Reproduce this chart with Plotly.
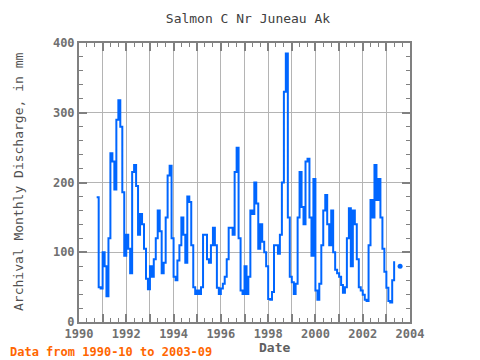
import numpy as np
import pandas as pd
import plotly.graph_objects as go

START = "1990-10-01"

# Monthly discharge (mm), by water year (Oct..Sep)
wy1991 = [179, 50, 48, 100, 80, 37, 120, 242, 230, 190, 290, 318]
wy1992 = [280, 186, 95, 125, 105, 70, 215, 225, 195, 125, 155, 140]
wy1993 = [105, 62, 47, 80, 65, 90, 120, 160, 130, 70, 85, 150]
wy1994 = [210, 224, 120, 65, 60, 88, 110, 150, 125, 85, 180, 172]
wy1995 = [110, 50, 40, 45, 40, 50, 125, 125, 90, 85, 110, 135]
wy1996 = [110, 49, 40, 48, 55, 65, 90, 135, 135, 125, 215, 250]
wy1997 = [120, 45, 40, 80, 40, 65, 160, 155, 200, 170, 105, 140]
wy1998 = [115, 100, 80, 33, 32, 43, 110, 110, 98, 125, 200, 330]
wy1999 = [385, 150, 65, 57, 40, 55, 150, 215, 165, 140, 230, 234]
wy2000 = [150, 95, 205, 45, 32, 55, 110, 160, 182, 140, 110, 160]
wy2001 = [100, 75, 70, 65, 53, 42, 50, 120, 163, 80, 160, 140]
wy2002 = [90, 50, 45, 39, 32, 30, 110, 175, 150, 225, 175, 205]
wy2003 = [150, 105, 72, 49, 30, 28, 60, 87, None, None, 80, None]

year_ticks = list(range(1990, 2005))
tick_labels = [str(y) if y % 2 == 0 else "" for y in year_ticks]
y_ticks = [0, 100, 200, 300, 400]

values = (wy1991 + wy1992 + wy1993 + wy1994 + wy1995 + wy1996 + wy1997 +
          wy1998 + wy1999 + wy2000 + wy2001 + wy2002 + wy2003)
vals = np.array([np.nan if v is None else v for v in values], dtype=float)
dates = pd.date_range(START, periods=len(vals), freq="MS")

# isolated points (no valid neighbour) are shown as markers
prev_nan = np.concatenate([[True], np.isnan(vals[:-1])])
next_nan = np.concatenate([np.isnan(vals[1:]), [True]])
iso = (~np.isnan(vals)) & prev_nan & next_nan

BLUE = "#0066ff"
AXC = "#808080"
FONT = "DejaVu Sans Mono"

# page has an 8px body margin: figure is placed at (8, 8)
W, H = 472, 352
L, R, T, B = 71, 70, 35, 38
PW, PH = W - L - R, H - T - B

fig = go.Figure()
fig.add_trace(go.Scatter(x=dates, y=vals, mode="lines",
                         line=dict(color=BLUE, width=2, shape="hv"),
                         connectgaps=False, showlegend=False))
fig.add_trace(go.Scatter(x=dates[iso], y=vals[iso], mode="markers",
                         marker=dict(color=BLUE, size=5), showlegend=False))

fig.update_layout(
    width=W, height=H,
    margin=dict(l=L, r=R, t=T, b=B),
    paper_bgcolor="white", plot_bgcolor="white",
    title=dict(text="Salmon C Nr Juneau Ak", xref="container", x=(248 - 8) / W,
               xanchor="center", yref="container", y=1 - (18 - 8) / H, yanchor="middle",
               font=dict(family=FONT, size=13, color="#404040")),
    showlegend=False,
)

fig.update_xaxes(
    type="date",
    range=["1990-01-01", "2004-01-01"],
    tickmode="array",
    tickvals=[f"{y}-01-01" for y in year_ticks],
    ticktext=tick_labels,
    showgrid=True, gridcolor="#b4b4b4", gridwidth=1,
    ticks="inside", ticklen=8, tickwidth=2, tickcolor=AXC,
    minor=dict(dtick="M4", tick0="1990-01-01", ticks="inside", ticklen=4,
               tickwidth=1, tickcolor=AXC, showgrid=False),
    showline=True, linecolor=AXC, linewidth=2, mirror="allticks",
    tickfont=dict(family=FONT, size=12, color="#707070", weight="bold"),
    zeroline=False,
)
fig.update_yaxes(
    range=[0, 400],
    tickmode="array", tickvals=y_ticks,
    showgrid=True, gridcolor="#b4b4b4", gridwidth=1,
    ticks="inside", ticklen=8, tickwidth=2, tickcolor=AXC,
    minor=dict(dtick=20, tick0=0, ticks="inside", ticklen=4,
               tickwidth=1, tickcolor=AXC, showgrid=False),
    showline=True, linecolor=AXC, linewidth=2, mirror="allticks",
    tickfont=dict(family=FONT, size=12, color="#707070", weight="bold"),
    zeroline=False,
)

# positions below are page pixels converted into paper coordinates
def px(xp):
    return (xp - 8 - L) / PW

def py(yp):
    return (H - B - (yp - 8)) / PH

fig.add_annotation(text="Date", xref="paper", yref="paper",
                   x=px(274), y=py(347),
                   xanchor="center", yanchor="middle", showarrow=False,
                   font=dict(family=FONT, size=13, color="#606060", weight="bold"))
fig.add_annotation(text="Archival Monthly Discharge, in mm", xref="paper", yref="paper",
                   x=px(18), y=py(182), textangle=-90,
                   xanchor="center", yanchor="middle", showarrow=False,
                   font=dict(family=FONT, size=13, color="#505050"))
fig.add_annotation(text="Data from 1990-10 to 2003-09", xref="paper", yref="paper",
                   x=px(8), y=py(352),
                   xanchor="left", yanchor="middle", showarrow=False,
                   font=dict(family=FONT, size=12, color="#ff6600", weight="bold"))

fig.write_html("out.html")
